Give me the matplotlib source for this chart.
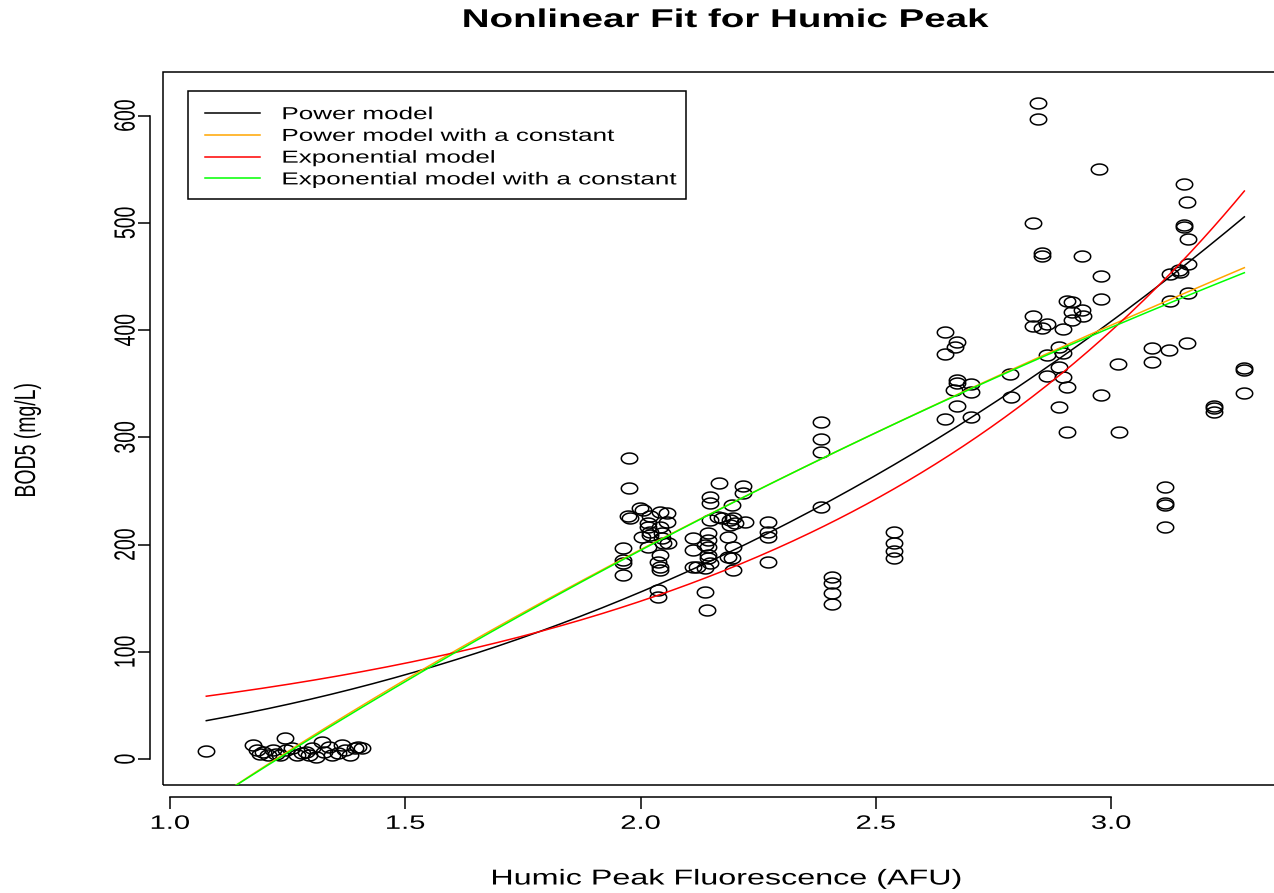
"""Nonlinear fits of BOD5 against humic peak fluorescence."""

import matplotlib

matplotlib.use("Agg")
import matplotlib.pyplot as plt
import numpy as np
from matplotlib.markers import MarkerStyle
from matplotlib.patches import Rectangle
from matplotlib.path import Path
from matplotlib.patheffects import AbstractPathEffect
from matplotlib.transforms import Affine2D

plt.rcParams["font.family"] = ["Liberation Sans", "DejaVu Sans"]

# ---------------------------------------------------------------------------
# Data
# ---------------------------------------------------------------------------

humic_x = [
    # low cluster
    1.077, 1.177, 1.185, 1.198, 1.208, 1.219, 1.234, 1.245, 1.247, 1.260, 1.270,
    1.289, 1.302, 1.311, 1.323, 1.327, 1.338, 1.345, 1.366, 1.372, 1.383, 1.393,
    1.400, 1.408, 1.192, 1.226, 1.281, 1.296, 1.356,
    # 1.96 - 2.06
    1.976, 1.976, 1.973, 1.978, 1.999, 2.005, 2.020, 2.016, 2.016, 2.020, 2.003,
    2.020, 2.016, 2.041, 2.056, 2.056, 2.041, 2.046, 2.046, 2.048, 2.058, 1.963,
    1.963, 1.963, 1.963, 2.041, 2.037, 2.041, 2.041, 2.037, 2.037,
    # 2.11 - 2.27
    2.167, 2.218, 2.218, 2.148, 2.148, 2.194, 2.148, 2.165, 2.173, 2.190, 2.197,
    2.201, 2.222, 2.190, 2.271, 2.271, 2.271, 2.112, 2.143, 2.143, 2.137, 2.143,
    2.186, 2.197, 2.112, 2.143, 2.143, 2.148, 2.112, 2.120, 2.137, 2.186, 2.194,
    2.197, 2.271, 2.137, 2.141,
    # 2.38 - 2.54
    2.384, 2.384, 2.384, 2.384, 2.407, 2.407, 2.407, 2.407, 2.539, 2.539, 2.539,
    2.539,
    # 2.65 - 2.79
    2.647, 2.673, 2.668, 2.647, 2.673, 2.673, 2.702, 2.666, 2.702, 2.785, 2.673,
    2.647, 2.702, 2.787,
    # 2.83 - 3.02
    2.845, 2.845, 2.975, 2.834, 2.853, 2.853, 2.938, 2.979, 2.979, 2.906, 2.917,
    2.834, 2.834, 2.853, 2.864, 2.917, 2.938, 2.940, 2.917, 2.898, 2.890, 2.864,
    2.898, 2.890, 2.864, 2.898, 2.906, 3.015, 2.979, 2.890, 2.906, 3.017,
    # 3.08 - 3.29
    3.155, 3.162, 3.155, 3.155, 3.164, 3.164, 3.126, 3.147, 3.145, 3.164, 3.126,
    3.087, 3.123, 3.162, 3.087, 3.283, 3.283, 3.283, 3.219, 3.219, 3.219, 3.115,
    3.115, 3.115, 3.115,
]

bod5 = [
    # low cluster
    7.5, 13.0, 8.4, 6.5, 3.7, 8.4, 3.7, 19.6, 8.4, 10.3, 3.7,
    6.5, 10.3, 1.9, 15.9, 6.5, 11.2, 3.7, 13.0, 8.4, 3.7, 10.3,
    11.2, 10.3, 5.0, 4.5, 6.0, 4.0, 5.5,
    # 1.96 - 2.06
    281, 253, 227, 225, 234, 232, 227, 220, 216, 212, 207,
    209, 198, 230, 229, 221, 216, 211, 206, 201, 201, 197,
    186, 183, 172, 190, 184, 179, 176, 158, 151,
    # 2.11 - 2.27
    257, 255, 248, 244, 239, 237, 223, 226, 225, 223, 225,
    220, 221, 218, 221, 212, 207, 206, 211, 204, 200, 198,
    207, 198, 195, 190, 187, 183, 179, 179, 178, 188, 187,
    176, 184, 156, 139,
    # 2.38 - 2.54
    314, 298, 286, 235, 170, 164, 155, 145, 212, 201, 194,
    187,
    # 2.65 - 2.79
    398, 389, 384, 378, 353, 351, 350, 344, 342, 359, 329,
    317, 319, 338,
    # 2.83 - 3.02
    612, 597, 550, 500, 472, 469, 469, 450, 429, 427, 426,
    413, 404, 402, 406, 417, 419, 413, 409, 401, 384, 377,
    379, 366, 357, 356, 347, 368, 339, 328, 305, 305,
    # 3.08 - 3.29
    536, 519, 498, 496, 485, 462, 452, 454, 456, 435, 427,
    383, 381, 388, 370, 365, 363, 341, 329, 327, 324, 254,
    239, 237, 216,
]

# fitted model parameters
power_a, power_b = 30.0, 2.376
power_c_a, power_c_b, power_c_c = 528.0, 0.58, -594.0
expo_a, expo_b = 20.0, 0.998
expo_c_a, expo_c_k, expo_c_c = 1634.0, 0.22, 1247.0

model_labels = [
    "Power model",
    "Power model with a constant",
    "Exponential model",
    "Exponential model with a constant",
]
model_colors = ["black", "orange", "red", "#00ff00"]

x_ticks = [1.0, 1.5, 2.0, 2.5, 3.0]
y_ticks = [0, 100, 200, 300, 400, 500, 600]

# the reference device is stretched horizontally; text glyphs follow
STRETCH = 1.5


class HStretch(AbstractPathEffect):
    """Scale the glyph outlines horizontally around an anchor."""

    def __init__(self, sx=STRETCH, anchor=0.5):
        super().__init__()
        self.sx = sx
        self.anchor = anchor

    def draw_path(self, renderer, gc, tpath, affine, rgbFace=None):
        ext = tpath.get_extents(affine)
        x0 = ext.x0 + self.anchor * ext.width
        aff = affine + Affine2D().translate(-x0, 0).scale(self.sx, 1).translate(x0, 0)
        renderer.draw_path(gc, tpath, aff, rgbFace)


# ---------------------------------------------------------------------------
# Plot
# ---------------------------------------------------------------------------

fig = plt.figure(figsize=(12.74, 8.93), dpi=100)
ax = fig.add_axes([163 / 1274, 1 - 785 / 893, (1290 - 163) / 1274, (785 - 72) / 893])

theta = np.linspace(0, 2 * np.pi, 60)
ellipse = Path(np.column_stack([1.5 * np.cos(theta), np.sin(theta)]), closed=True)

ax.plot(
    humic_x, bod5, linestyle="none",
    marker=MarkerStyle(ellipse), markersize=11.8,
    markerfacecolor="none", markeredgecolor="black", markeredgewidth=1.1,
)

xs = np.linspace(min(humic_x), max(humic_x), 300)
curves = [
    power_a * xs ** power_b,
    power_c_a * xs ** power_c_b + power_c_c,
    expo_a * np.exp(expo_b * xs),
    expo_c_c - expo_c_a * np.exp(-expo_c_k * xs),
]
for yv, col, lab in zip(curves, model_colors, model_labels):
    ax.plot(xs, yv, color=col, lw=1.1, label=lab)

ax.set_xlim(0.985, 3.380)
ax.set_ylim(-24.2, 640.6)

# R-style detached axes plus a full box
for s in ("top", "right"):
    ax.spines[s].set_visible(False)
ax.spines["bottom"].set_position(("outward", 8.6))
ax.spines["left"].set_position(("outward", 9.4))
ax.spines["bottom"].set_bounds(x_ticks[0], x_ticks[-1])
ax.spines["left"].set_bounds(y_ticks[0], y_ticks[-1])
for s in ("bottom", "left"):
    ax.spines[s].set_linewidth(1.1)
ax.add_patch(Rectangle((0, 0), 1, 1, transform=ax.transAxes, fill=False,
                       lw=1.1, ec="black", clip_on=False))

ax.set_xticks(x_ticks)
ax.set_xticklabels([f"{v:.1f}" for v in x_ticks])
ax.set_yticks(y_ticks)
ax.set_yticklabels([str(v) for v in y_ticks])
ax.tick_params(axis="both", length=8.6, width=1.1, labelsize=14)
ax.tick_params(axis="x", pad=5)
ax.tick_params(axis="y", pad=2)
for lbl in ax.get_yticklabels():
    lbl.set_rotation(90)
    lbl.set_va("center")
for lbl in ax.get_xticklabels() + ax.get_yticklabels():
    lbl.set_path_effects([HStretch()])

fig.text(726 / 1274, 1 - 20 / 893, "Nonlinear Fit for Humic Peak",
         ha="center", va="center", fontsize=18.5, fontweight="bold",
         path_effects=[HStretch()])
fig.text(726 / 1274, 1 - 879 / 893, "Humic Peak Fluorescence (AFU)",
         ha="center", va="center", fontsize=15.5, path_effects=[HStretch()])
fig.text(28 / 1274, 1 - 440 / 893, "BOD5 (mg/L)", rotation=90,
         ha="center", va="center", fontsize=14, path_effects=[HStretch()])

# legend: entries without frame, box drawn separately to the R extent
leg = ax.legend(
    loc="upper left", bbox_to_anchor=(205 / 1274, 1 - 107 / 893),
    bbox_transform=fig.transFigure, borderaxespad=0, borderpad=0,
    fontsize=12.5, handlelength=3.17, handletextpad=1.27, labelspacing=0.38,
    frameon=False,
)
leg.set_zorder(6)
for t in leg.get_texts():
    t.set_path_effects([HStretch(anchor=0.0)])
ax.add_patch(Rectangle((188 / 1274, 1 - 199 / 893), (686 - 188) / 1274,
                       (199 - 91) / 893, transform=fig.transFigure,
                       fc="white", ec="black", lw=1.1, zorder=5, clip_on=False))

fig.savefig("out.png", dpi=100)
